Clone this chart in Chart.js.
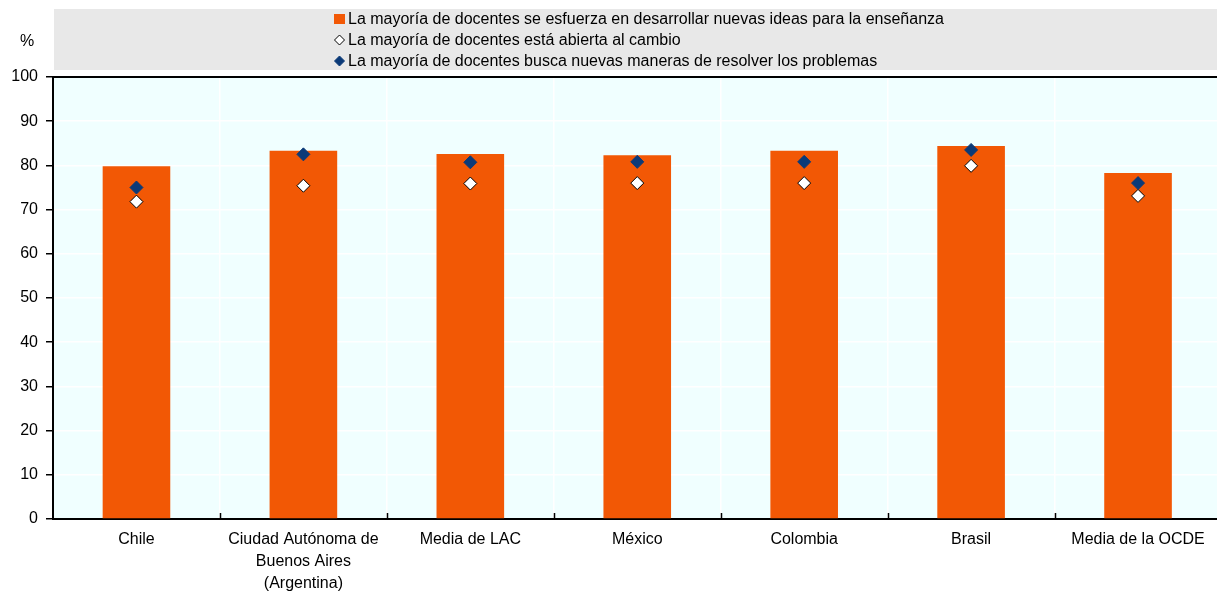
<!DOCTYPE html>
<html lang="es">
<head>
<meta charset="utf-8">
<title>Docentes e innovación</title>
<script src="https://cdn.jsdelivr.net/npm/chart.js@4.4.1/dist/chart.umd.min.js"></script>
<style>
    html, body { margin: 0; padding: 0; background: #fff; overflow: hidden; }
    #wrap { position: relative; width: 1229px; height: 591px; }
</style>
</head>
<body>
<div id="wrap"><canvas id="chart"></canvas></div>
<script>
const FONT = "'Liberation Sans', Arial, sans-serif";

// ── Data ──────────────────────────────────────────────────────────────

const categories = [
    'Chile',
    ['Ciudad Autónoma de', 'Buenos Aires', '(Argentina)'],
    'Media de LAC',
    'México',
    'Colombia',
    'Brasil',
    'Media de la OCDE',
];
const newIdeas     = [79.8, 83.3, 82.6, 82.3, 83.3, 84.4, 78.3];
const openToChange = [71.8, 75.4, 75.9, 76.0, 76.0, 79.9, 73.1];
const newSolutions = [75.0, 82.5, 80.7, 80.8, 80.8, 83.5, 76.0];

const seriesLabels = [
    'La mayoría de docentes se esfuerza en desarrollar nuevas ideas para la enseñanza',
    'La mayoría de docentes está abierta al cambio',
    'La mayoría de docentes busca nuevas maneras de resolver los problemas',
];

const ORANGE = '#f25805';
const NAVY   = '#0b3a78';

// ── Frame, legend band and inward ticks ───────────────────────────────

const framePlugin = {
    id: 'frame',
    beforeDraw(chart) {
        const { ctx, chartArea: a, width } = chart;
        ctx.save();
        ctx.fillStyle = '#f0ffff';
        ctx.fillRect(a.left, a.top, a.right - a.left, a.bottom - a.top);
        ctx.fillStyle = '#e8e8e8';
        ctx.fillRect(54, 9, width - 54, 61);
        ctx.restore();
    },
    afterDraw(chart) {
        const { ctx, chartArea: a, scales } = chart;
        ctx.save();

        // top border
        ctx.strokeStyle = '#000';
        ctx.lineWidth = 2;
        ctx.beginPath();
        ctx.moveTo(a.left, a.top);
        ctx.lineTo(a.right, a.top);
        ctx.stroke();

        // category separators, pointing up into the plot
        ctx.lineWidth = 1.5;
        const x = scales.x;
        for (let i = 1; i < categories.length; i++) {
            const px = Math.round((x.getPixelForValue(i - 1) + x.getPixelForValue(i)) / 2) + 0.5;
            ctx.beginPath();
            ctx.moveTo(px, a.bottom);
            ctx.lineTo(px, a.bottom - 6);
            ctx.stroke();
        }

        // unit label
        ctx.fillStyle = '#000';
        ctx.font = `16px ${FONT}`;
        ctx.textAlign = 'center';
        ctx.textBaseline = 'middle';
        ctx.fillText('%', 27, 42);

        // legend
        ctx.textAlign = 'left';
        const mx = 339.5, tx = 348;
        const rows = [19, 40, 61];

        ctx.fillStyle = ORANGE;
        ctx.fillRect(334, rows[0] - 5, 11, 10);

        const diamond = (cy, fill, stroke) => {
            ctx.beginPath();
            ctx.moveTo(mx - 5, cy);
            ctx.lineTo(mx, cy - 5);
            ctx.lineTo(mx + 5, cy);
            ctx.lineTo(mx, cy + 5);
            ctx.closePath();
            ctx.fillStyle = fill;
            ctx.fill();
            ctx.lineWidth = 1;
            ctx.strokeStyle = stroke;
            ctx.stroke();
        };
        diamond(rows[1], '#fff', '#000');
        diamond(rows[2], NAVY, NAVY);

        ctx.fillStyle = '#000';
        seriesLabels.forEach((t, i) => ctx.fillText(t, tx, rows[i] + 1));
        ctx.restore();
    },
};

// ── Chart ─────────────────────────────────────────────────────────────

new Chart(document.getElementById('chart'), {
    data: {
        labels: categories,
        datasets: [
            {
                type:               'bar',
                label:              seriesLabels[0],
                data:               newIdeas,
                backgroundColor:    ORANGE,
                barPercentage:      1,
                categoryPercentage: 0.405,
                order:              3,
            },
            {
                type:             'line',
                label:            seriesLabels[1],
                data:             openToChange,
                showLine:         false,
                pointStyle:       'rectRot',
                pointRadius:      6.5,
                pointBackgroundColor: '#fff',
                pointBorderColor: '#000',
                pointBorderWidth: 1,
                order:            2,
            },
            {
                type:             'line',
                label:            seriesLabels[2],
                data:             newSolutions,
                showLine:         false,
                pointStyle:       'rectRot',
                pointRadius:      6.5,
                pointBackgroundColor: NAVY,
                pointBorderColor: NAVY,
                pointBorderWidth: 1,
                order:            1,
            },
        ],
    },
    options: {
        responsive:          true,
        maintainAspectRatio: false,
        animation:           false,
        layout: { padding: { top: 77, right: 0, bottom: 0, left: 0 } },
        plugins: {
            legend:  { display: false },
            tooltip: { enabled: false },
        },
        scales: {
            x: {
                offset: true,
                grid: {
                    offset:    true,
                    color:     '#ffffff',
                    lineWidth: 1.5,
                    drawTicks: false,
                },
                border: { color: '#000', width: 2 },
                ticks: {
                    color:       '#000',
                    padding:     10,
                    maxRotation: 0,
                    autoSkip:    false,
                    font:        { family: FONT, size: 16, lineHeight: 1.375 },
                },
                afterFit: s => { s.height = 72; },
            },
            y: {
                min: 0,
                max: 100,
                grid: {
                    color:      '#ffffff',
                    lineWidth:  1.5,
                    tickColor:  '#000',
                    tickLength: 7,
                    tickWidth:  1.5,
                },
                border: { color: '#000', width: 2 },
                ticks: {
                    stepSize: 10,
                    color:    '#000',
                    padding:  8,
                    font:     { family: FONT, size: 16 },
                },
                afterFit: s => { s.width = 53; },
            },
        },
    },
    plugins: [framePlugin],
});
</script>
</body>
</html>
